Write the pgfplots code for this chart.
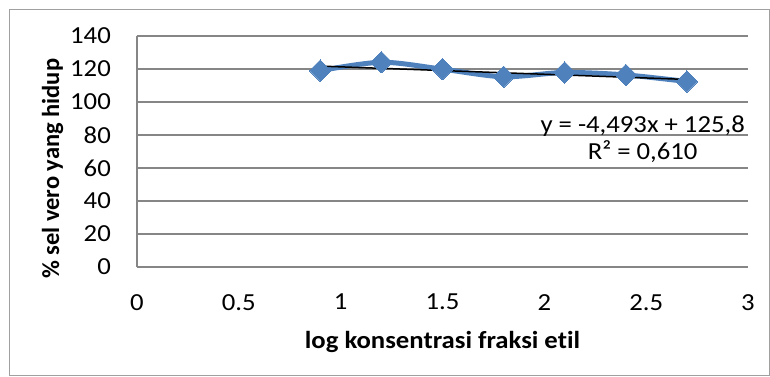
\documentclass[border=0pt]{standalone}
\usepackage{pgfplots}
\pgfplotsset{compat=1.18}
\usepackage{fontspec}
\setmainfont{Carlito}[FakeStretch=1.09, RawFeature={-liga;-clig}]
\newfontfamily\narrow{Carlito}[RawFeature={-liga;-clig}]
\definecolor{exblue}{RGB}{79,129,189}
\definecolor{exgray}{RGB}{134,134,134}
\definecolor{frame}{RGB}{160,160,160}
\begin{document}
\begin{tikzpicture}[font=\fontsize{24.5}{27}\selectfont]
\path (-137pt,-109pt) rectangle (633pt,267pt);
\draw[frame, line width=1pt] (-127pt,-108pt) rectangle (632pt,258pt);
\begin{axis}[
  at={(0pt,0pt)}, anchor=south west,
  scale only axis, width=611pt, height=231pt,
  xmin=0, xmax=3, ymin=0, ymax=140,
  xtick={0,0.5,...,3}, ytick={0,20,...,140},
  xticklabels={0,0.5,1,1.5,2,2.5,3},
  /pgf/number format/assume math mode=true,
  axis x line*=bottom, axis y line*=left,
  axis line style={exgray, line width=1.5pt, -},
  major tick length=0pt,
  ymajorgrids, grid style={exgray, line width=1.5pt},
  tick label style={font=\fontsize{24.5}{27}\selectfont, inner sep=0pt},
  yticklabel style={anchor=east},
  xticklabel style={anchor=north},
  yticklabel shift=26pt,
  xticklabel shift=27pt,
  xlabel={\bfseries log konsentrasi fraksi etil},
  ylabel={\narrow\bfseries \% sel vero yang hidup},
  xlabel style={at={(axis description cs:0.5,-0.3247)}, anchor=center, inner sep=0pt},
  ylabel style={at={(axis description cs:-0.138,0.425)}, anchor=center, inner sep=0pt},
  clip=false,
]
\addplot[exblue, line width=5pt, smooth, tension=0.5, mark=square*, mark size=7.6pt,
  mark options={rotate=45, fill=exblue, draw=exblue, line width=0pt}]
  coordinates {(0.9,119) (1.2,124.1) (1.5,119.9) (1.8,115.3) (2.1,117.9) (2.4,116.4) (2.7,112.4)};
\addplot[black, line width=1.5pt] coordinates {(0.9,121.76) (2.7,113.67)};
\node[align=center, inner sep=0pt, anchor=north east, font=\fontsize{24.5}{27}\selectfont]
  at (axis cs:2.985,92) {y = -4,493x + 125,8\\R² = 0,610};
\end{axis}
\end{tikzpicture}
\end{document}
